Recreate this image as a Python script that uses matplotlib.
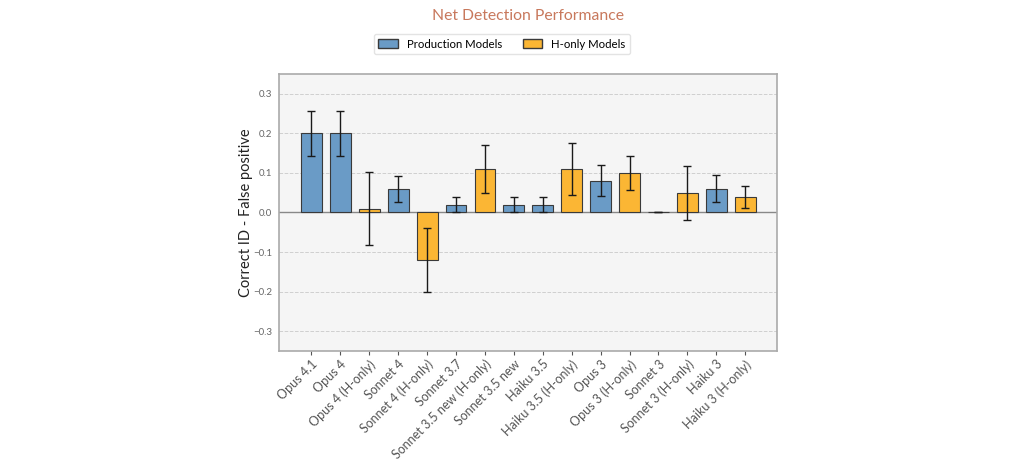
import matplotlib.pyplot as plt
import numpy as np
from matplotlib.patches import Patch

plt.rcParams['font.family'] = ['Lato', 'DejaVu Sans']

# data
models = ['Opus 4.1', 'Opus 4', 'Opus 4 (H-only)', 'Sonnet 4', 'Sonnet 4 (H-only)',
          'Sonnet 3.7', 'Sonnet 3.5 new (H-only)', 'Sonnet 3.5 new', 'Haiku 3.5',
          'Haiku 3.5 (H-only)', 'Opus 3', 'Opus 3 (H-only)', 'Sonnet 3',
          'Sonnet 3 (H-only)', 'Haiku 3', 'Haiku 3 (H-only)']
h_only = [False, False, True, False, True, False, True, False, False,
          True, False, True, False, True, False, True]
values = [0.20, 0.20, 0.01, 0.06, -0.12, 0.02, 0.11, 0.02, 0.02,
          0.11, 0.08, 0.10, 0.00, 0.05, 0.06, 0.04]
errors = [0.057, 0.057, 0.093, 0.033, 0.08, 0.02, 0.06, 0.02, 0.02,
          0.066, 0.039, 0.043, 0.0, 0.068, 0.034, 0.028]

blue = '#6a9bc6'
orange = '#fbb634'
colors = [orange if h else blue for h in h_only]

fig = plt.figure(figsize=(10.24, 4.61), dpi=100)
ax = fig.add_axes([0.2725, 0.2386, 0.4863, 0.6009])
ax.set_facecolor('#f5f5f5')

x = np.arange(len(models))
ax.bar(x, values, width=0.72, color=colors, edgecolor='#3a3a3a', linewidth=0.8,
       yerr=errors, capsize=3, error_kw=dict(ecolor='#1a1a1a', elinewidth=1.0, capthick=1.0),
       zorder=3)
ax.axhline(0, color='#888888', linewidth=1.0, zorder=2)

ax.set_ylim(-0.35, 0.35)
ax.set_xlim(-1.12, 16.1)
ax.set_yticks([-0.3, -0.2, -0.1, 0.0, 0.1, 0.2, 0.3])
ax.set_yticklabels(['\u22120.3', '\u22120.2', '\u22120.1', '0.0', '0.1', '0.2', '0.3'])
ax.yaxis.grid(True, linestyle='--', color='#cfcfcf', linewidth=0.7, zorder=0)
ax.tick_params(axis='y', labelsize=7, colors='#666666', length=0, pad=5)
ax.tick_params(axis='x', labelsize=9, colors='#555555', length=3, pad=2)
ax.set_xticks(x)
ax.set_xticklabels(models, rotation=45, ha='right', rotation_mode='anchor')
ax.set_ylabel('Correct ID - False positive', fontsize=10.5, color='#222222', labelpad=0)

for s in ax.spines.values():
    s.set_color('#aaaaaa')
    s.set_linewidth(1.2)

fig.text(0.516, 0.965, 'Net Detection Performance', ha='center', va='center',
         fontsize=11.3, color='#c8785c')

handles = [Patch(facecolor=blue, edgecolor='#3a3a3a', label='Production Models'),
           Patch(facecolor=orange, edgecolor='#3a3a3a', label='H-only Models')]
fig.legend(handles=handles, loc='center', bbox_to_anchor=(0.49, 0.904), ncol=2,
           fontsize=8.2, frameon=True, edgecolor='#dddddd', columnspacing=1.8,
           handlelength=1.7, handleheight=0.8, handletextpad=0.8, fancybox=True)

fig.savefig('out.png', dpi=100, facecolor='white')
